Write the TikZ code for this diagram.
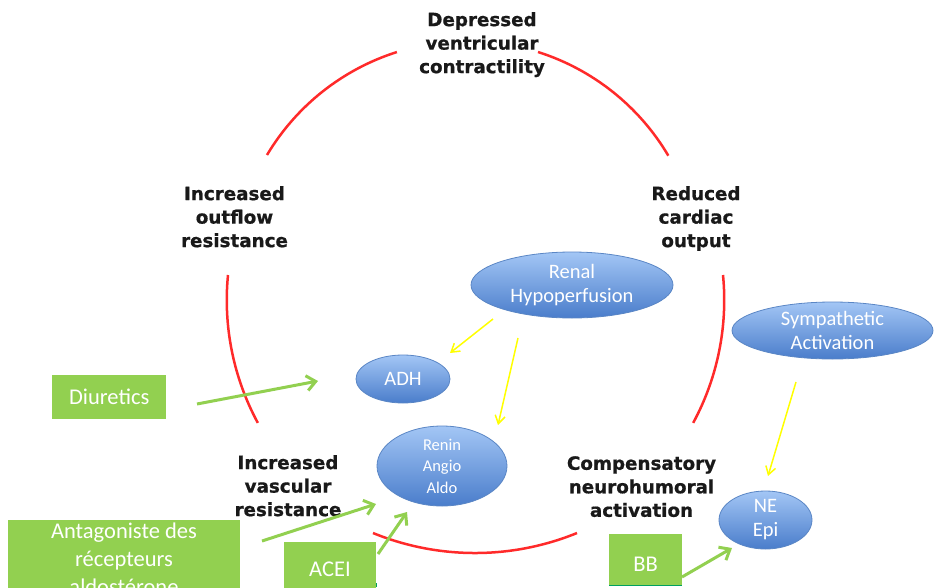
\documentclass[tikz,border=0pt]{standalone}
\usepackage{fontspec}
\setmainfont{Carlito}
\newfontfamily\lblfont{DejaVu Sans Bold}[FakeBold=0.8]
\usetikzlibrary{arrows.meta,shapes.geometric}
\definecolor{arcred}{HTML}{FF2A2A}
\definecolor{boxgreen}{HTML}{92D050}
\definecolor{edgegreen}{HTML}{00A060}
\definecolor{ellL}{HTML}{A3C6F5}
\definecolor{ellD}{HTML}{4A7DCB}
\definecolor{ellB}{HTML}{5A86C5}
\definecolor{yel}{HTML}{FFFF00}
\begin{document}
\begin{tikzpicture}[x=1pt,y=-1pt,
  lbl/.style={align=center, font=\lblfont\fontsize{18.3}{23.5}\selectfont, text=black!90, inner sep=0, anchor=north},
  oval/.style={ellipse, draw=ellB, line width=0.8, top color=ellL, bottom color=ellD, inner sep=0},
  ovaltext/.style={text=white, align=center, inner sep=0, font=\fontsize{20.5}{24}\selectfont},
  gbox/.style={fill=boxgreen, inner sep=0, anchor=north west},
  gtext/.style={text=white, align=center, inner sep=0, font=\fontsize{22.5}{28}\selectfont},
  redarc/.style={draw=arcred, line width=2.5},
  garrow/.style={draw=boxgreen, line width=3, -{Straight Barb[length=9,width=15]}},
  yarrow/.style={draw=yel, line width=1.5, -{Straight Barb[length=8,width=10]}}]
\useasboundingbox (0,0) rectangle (935,587);
\clip (0,0) rectangle (935,587);

% red cycle arcs
\draw[redarc] (267,155) arc[start angle=-149.2, end angle=-107.6, radius=233.4];
\draw[redarc] (538,52) arc[start angle=-72.4, end angle=-30.6, radius=233.4];
\draw[redarc] (228,275) arc[start angle=185.6, end angle=151.6, radius=258];
\draw[redarc] (723,275) arc[start angle=-5.6, end angle=28.4, radius=258];
\draw[redarc] (373,533) arc[start angle=112.2, end angle=67.8, radius=270];

% cycle labels
\node[lbl] (dep) at (482,12) {Depressed\\ventricular\\contractility};
\node[lbl] (outf) at (234.5,186) {Increased\\outflow\\resistance};
\node[lbl] (red) at (696,186) {Reduced\\cardiac\\output};
\node[lbl] (vasc) at (288,455) {Increased\\vascular\\resistance};
\node[lbl] (comp) at (641.5,456) {Compensatory\\neurohumoral\\activation};

% ellipses
\node[oval, minimum width=202, minimum height=66] (renal) at (572,285) {};
\node[ovaltext] at (renal) {Renal\\Hypoperfusion};
\node[oval, minimum width=201, minimum height=57] (symp) at (832.5,330.5) {};
\node[ovaltext] at (symp) {Sympathetic\\Activation};
\node[oval, minimum width=94, minimum height=48] (adh) at (403,379) {};
\node[ovaltext] at (adh) {ADH};
\node[oval, minimum width=130, minimum height=80] (raa) at (442,466) {};
\node[ovaltext, font=\fontsize{16.5}{21.5}\selectfont] at (raa) {Renin\\Angio\\Aldo};
\node[oval, minimum width=93, minimum height=58] (ne) at (765.5,520) {};
\node[ovaltext] at (ne) {NE\\Epi};

% green boxes
\node[gbox, minimum width=114, minimum height=44] (diu) at (52,375) {};
\node[gtext] at (diu) {Diuretics};
\node[gbox, minimum width=232, minimum height=90] (ant) at (8,520) {};
\node[gtext, anchor=north] at (124,523) {Antagoniste des\\récepteurs\\aldostérone};
\node[gbox, minimum width=92, minimum height=60] (acei) at (284,542) {};
\node[gtext] at (330,569) {ACEI};
\node[gbox, minimum width=73, minimum height=51] (bb) at (609,534) {};
\node[gtext] at (645.5,564) {BB};
\draw[edgegreen, line width=1] (609,585) -- (682,585);
\draw[edgegreen, line width=1] (376,583) -- (376,587);

% arrow end points
\coordinate (d0) at (197,404); \coordinate (d1) at (318,381);
\coordinate (a0) at (262,541); \coordinate (a1) at (376,504);
\coordinate (c0) at (378,554); \coordinate (c1) at (407,512);
\coordinate (b0) at (682,577); \coordinate (b1) at (732,548);
\coordinate (y0) at (493,319); \coordinate (y1) at (450,353);
\coordinate (y2) at (518,338); \coordinate (y3) at (498,425);
\coordinate (y4) at (796,382); \coordinate (y5) at (768,476);

\draw[garrow] (d0) -- (d1);
\draw[garrow] (a0) -- (a1);
\draw[garrow] (c0) -- (c1);
\draw[garrow] (b0) -- (b1);
\draw[yarrow] (y0) -- (y1);
\draw[yarrow] (y2) -- (y3);
\draw[yarrow] (y4) -- (y5);
\end{tikzpicture}
\end{document}
